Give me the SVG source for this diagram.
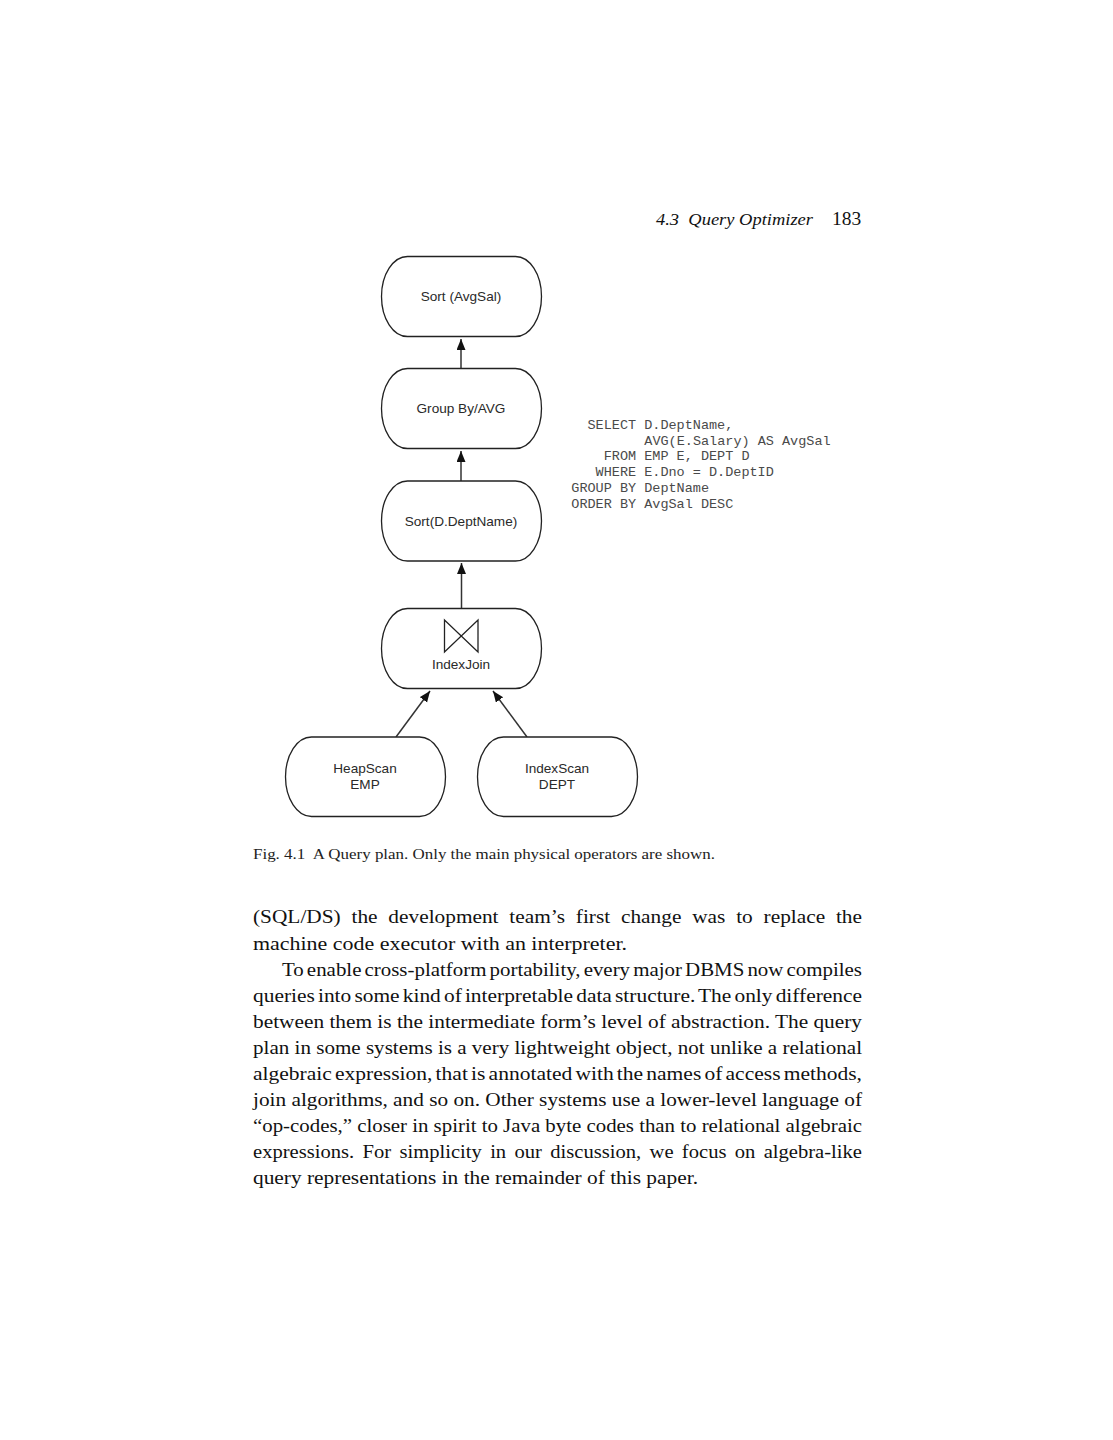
<svg xmlns="http://www.w3.org/2000/svg" width="1113" height="1440" viewBox="0 0 1113 1440">
<style>
.n{fill:#fff;stroke:#222;stroke-width:1.3}
.l{font:13.6px "Liberation Sans",Arial,sans-serif;fill:#2a2a2a;text-anchor:middle}
.c{stroke:#333;stroke-width:1.5;fill:none;marker-end:url(#a)}
.m{font:13.5px "Liberation Mono","Courier New",monospace;fill:#4a4a4a;white-space:pre}
.b{font:19.5px "Liberation Serif","Times New Roman",serif;fill:#111}
</style>
<defs><marker id="a" markerUnits="userSpaceOnUse" markerWidth="12" markerHeight="10" refX="11" refY="4.500" orient="auto"><path d="M0 0L11 4.500L0 9Z" fill="#111"/></marker></defs>
<rect width="1113" height="1440" fill="#fff"/>
<text x="656" y="225" textLength="157" lengthAdjust="spacingAndGlyphs" style="font:italic 16.500px 'Liberation Serif',serif;fill:#111;white-space:pre">4.3  Query Optimizer</text>
<text x="832" y="225" style="font:19.500px 'Liberation Serif',serif;fill:#111">183</text>
<g id="connectors">
<path class="c" d="M461 369V339"/>
<path class="c" d="M461 481V451"/>
<path class="c" d="M461.500 609V563"/>
<path class="c" d="M396 737L430 691"/>
<path class="c" d="M527 737L493 691"/>
</g>
<g id="sort-avgsal"><rect class="n" x="381.500" y="256.500" width="160" height="80" rx="26" ry="40"/><text class="l" x="461" y="301">Sort (AvgSal)</text></g>
<g id="group-by"><rect class="n" x="381.500" y="368.500" width="160" height="80" rx="26" ry="40"/><text class="l" x="461" y="413">Group By/AVG</text></g>
<g id="sort-dept"><rect class="n" x="381.500" y="481" width="160" height="80" rx="26" ry="40"/><text class="l" x="461" y="526">Sort(D.DeptName)</text></g>
<g id="index-join"><rect class="n" x="381.500" y="608.500" width="160" height="80" rx="26" ry="40"/><path d="M444.500 620V652L478 620V652Z" fill="none" stroke="#222" stroke-width="1.3"/><text class="l" x="461" y="669">IndexJoin</text></g>
<g id="heap-scan"><rect class="n" x="285.500" y="737" width="160" height="79.500" rx="26" ry="40"/><text class="l" x="365" y="773">HeapScan</text><text class="l" x="365" y="789">EMP</text></g>
<g id="index-scan"><rect class="n" x="477.500" y="737" width="160" height="79.500" rx="26" ry="40"/><text class="l" x="557" y="773">IndexScan</text><text class="l" x="557" y="789">DEPT</text></g>
<g id="sql">
<text class="m" x="587.500" y="429">SELECT D.DeptName,</text>
<text class="m" x="644.300" y="445">AVG(E.Salary) AS AvgSal</text>
<text class="m" x="603.700" y="460">FROM EMP E, DEPT D</text>
<text class="m" x="595.600" y="476">WHERE E.Dno = D.DeptID</text>
<text class="m" x="571.300" y="492">GROUP BY DeptName</text>
<text class="m" x="571.300" y="508">ORDER BY AvgSal DESC</text>
</g>
<text x="253" y="859" textLength="462" lengthAdjust="spacingAndGlyphs" style="font:14.500px 'Liberation Serif',serif;fill:#222;white-space:pre">Fig. 4.1  A Query plan. Only the main physical operators are shown.</text>
<g id="body">
<text class="b" x="253" y="923" textLength="609" lengthAdjust="spacingAndGlyphs" style="word-spacing:5px">(SQL/DS) the development team’s first change was to replace the</text>
<text class="b" x="253" y="950" textLength="374" lengthAdjust="spacingAndGlyphs">machine code executor with an interpreter.</text>
<text class="b" x="282" y="976" textLength="580" lengthAdjust="spacingAndGlyphs" style="word-spacing:-2px">To enable cross-platform portability, every major DBMS now compiles</text>
<text class="b" x="253" y="1002" textLength="609" lengthAdjust="spacingAndGlyphs" style="word-spacing:-2px">queries into some kind of interpretable data structure. The only difference</text>
<text class="b" x="253" y="1028" textLength="609" lengthAdjust="spacingAndGlyphs">between them is the intermediate form’s level of abstraction. The query</text>
<text class="b" x="253" y="1054" textLength="609" lengthAdjust="spacingAndGlyphs">plan in some systems is a very lightweight object, not unlike a relational</text>
<text class="b" x="253" y="1080" textLength="609" lengthAdjust="spacingAndGlyphs" style="word-spacing:-2px">algebraic expression, that is annotated with the names of access methods,</text>
<text class="b" x="253" y="1106" textLength="609" lengthAdjust="spacingAndGlyphs">join algorithms, and so on. Other systems use a lower-level language of</text>
<text class="b" x="253" y="1132" textLength="609" lengthAdjust="spacingAndGlyphs">“op-codes,” closer in spirit to Java byte codes than to relational algebraic</text>
<text class="b" x="253" y="1158" textLength="609" lengthAdjust="spacingAndGlyphs" style="word-spacing:3px">expressions. For simplicity in our discussion, we focus on algebra-like</text>
<text class="b" x="253" y="1184" textLength="445" lengthAdjust="spacingAndGlyphs">query representations in the remainder of this paper.</text>
</g>
</svg>
